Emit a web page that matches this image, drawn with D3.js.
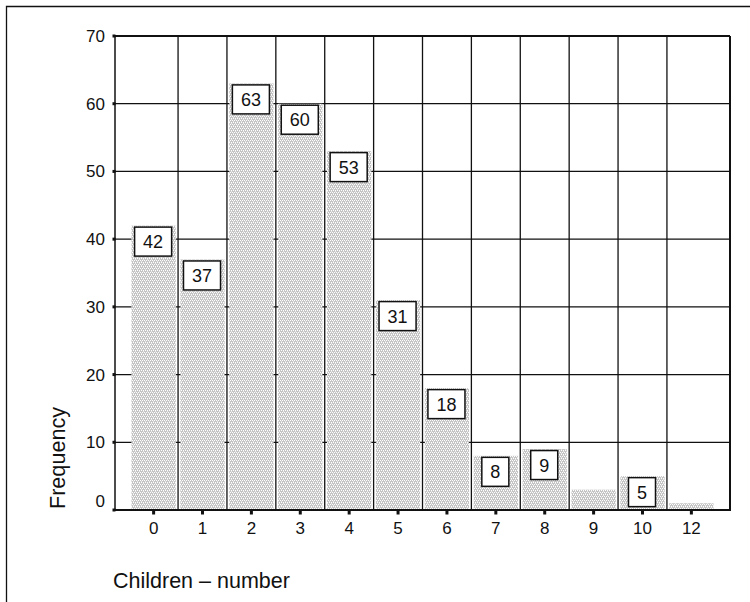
<!DOCTYPE html>
<html>
<head>
<meta charset="utf-8">
<script src="https://cdn.jsdelivr.net/npm/d3@7"></script>
<style>
  body { margin: 0; background: #fff; }
  svg { display: block; font-family: Arial, "Liberation Sans", sans-serif; }
</style>
</head>
<body>
<svg id="chart" width="750" height="602"></svg>
<script>
const categories = ["0", "1", "2", "3", "4", "5", "6", "7", "8", "9", "10", "12"];
const frequencies = [42, 37, 63, 60, 53, 31, 18, 8, 9, 3, 5, 1];
const yTicks = [0, 10, 20, 30, 40, 50, 60, 70];
const xTitle = "Children – number";
const yTitle = "Frequency";

const svg = d3.select("#chart");
const plot = { left: 115, right: 730, top: 36, bottom: 510 };

// outer frame (top and left edges visible)
svg.append("path")
  .attr("d", "M6.5,602 L6.5,6.5 L750,6.5")
  .attr("fill", "none").attr("stroke", "#111").attr("stroke-width", 1.3);

// pattern for bars
const defs = svg.append("defs");
const pat = defs.append("pattern")
  .attr("id", "hatch").attr("patternUnits", "userSpaceOnUse")
  .attr("width", 4).attr("height", 4);
pat.append("rect").attr("width", 4).attr("height", 4).attr("fill", "#c4c4c4");
[[0, 0], [2, 0], [1, 2], [3, 2]].forEach(([px, py]) =>
  pat.append("rect").attr("x", px).attr("y", py).attr("width", 1).attr("height", 1).attr("fill", "#ffffff"));
[[1, 1], [3, 3]].forEach(([px, py]) =>
  pat.append("rect").attr("x", px).attr("y", py).attr("width", 1).attr("height", 1).attr("fill", "#e6e6e6"));

const x = d3.scaleBand().domain(categories).range([plot.left, plot.right])
  .paddingInner(0).paddingOuter(0.29);
const y = d3.scaleLinear().domain([0, 70]).range([plot.bottom, plot.top]);
const step = x.step();

// horizontal gridlines (behind bars)
svg.append("g").selectAll("line").data(yTicks.filter(t => t > 0 && t < 70)).join("line")
  .attr("x1", plot.left).attr("x2", plot.right)
  .attr("y1", d => y(d)).attr("y2", d => y(d))
  .attr("stroke", "#111").attr("stroke-width", 1.3);

// bars
const data = categories.map((c, i) => ({ c, v: frequencies[i] }));
svg.append("g").selectAll("rect").data(data).join("rect")
  .attr("x", d => x(d.c) + 2.3)
  .attr("width", step - 4.6)
  .attr("y", d => y(d.v))
  .attr("height", d => y(0) - y(d.v))
  .attr("fill", "url(#hatch)");

// vertical gridlines at category boundaries
const bounds = categories.slice(1).map(c => x(c));
svg.append("g").selectAll("line").data(bounds).join("line")
  .attr("x1", d => d).attr("x2", d => d)
  .attr("y1", plot.top).attr("y2", plot.bottom)
  .attr("stroke", "#111").attr("stroke-width", 1.3);

// plot border
svg.append("line").attr("x1", plot.left).attr("x2", plot.right).attr("y1", plot.top).attr("y2", plot.top)
  .attr("stroke", "#111").attr("stroke-width", 2);
svg.append("line").attr("x1", plot.right).attr("x2", plot.right).attr("y1", plot.top).attr("y2", plot.bottom)
  .attr("stroke", "#111").attr("stroke-width", 2);
svg.append("line").attr("x1", plot.left).attr("x2", plot.left).attr("y1", plot.top).attr("y2", plot.bottom)
  .attr("stroke", "#111").attr("stroke-width", 1.5);
svg.append("line").attr("x1", plot.left).attr("x2", plot.right + 1).attr("y1", plot.bottom).attr("y2", plot.bottom)
  .attr("stroke", "#111").attr("stroke-width", 2);

// value labels
const boxH = 29;
const lab = svg.append("g").selectAll("g")
  .data(data.filter(d => (y(0) - y(d.v)) >= boxH + 3)).join("g");
lab.each(function(d) {
  const g = d3.select(this);
  const cx = x(d.c) + step / 2 - 0.5;
  const top = y(d.v) + 1.5;
  const t = g.append("text").attr("x", cx).attr("y", top + boxH / 2 + 6.5)
    .attr("text-anchor", "middle").attr("font-size", 18).attr("fill", "#111").text(d.v);
  const w = t.node().getComputedTextLength() + 17;
  g.insert("rect", "text").attr("x", cx - w / 2).attr("y", top)
    .attr("width", w).attr("height", boxH)
    .attr("fill", "#fff").attr("stroke", "#111").attr("stroke-width", 1.5);
});

// y ticks
const yAxis = svg.append("g");
yAxis.selectAll("rect").data(yTicks).join("rect")
  .attr("x", plot.left - 2.5).attr("y", d => y(d) - 1.5).attr("width", 3).attr("height", 3).attr("fill", "#111");
yAxis.selectAll("text").data(yTicks).join("text")
  .attr("x", 105).attr("y", d => y(d) + (d === 0 ? -3.5 : 6))
  .attr("text-anchor", "end").attr("font-size", 17).attr("fill", "#111").text(d => d);

// x ticks
const xAxis = svg.append("g");
xAxis.selectAll("rect").data(categories).join("rect")
  .attr("x", d => x(d) + step / 2 - 1.5).attr("y", plot.bottom + 1).attr("width", 3).attr("height", 3.5).attr("fill", "#111");
xAxis.selectAll("text").data(categories).join("text")
  .attr("x", d => x(d) + step / 2).attr("y", 533.5)
  .attr("text-anchor", "middle").attr("font-size", 17).attr("fill", "#111").text(d => d);

// titles
svg.append("text").attr("transform", "translate(64.5,458) rotate(-90)")
  .attr("text-anchor", "middle").attr("font-size", 21.6).attr("fill", "#111").text(yTitle);
svg.append("text").attr("x", 113).attr("y", 588)
  .attr("font-size", 21.5).attr("fill", "#111").text(xTitle);
</script>
</body>
</html>
